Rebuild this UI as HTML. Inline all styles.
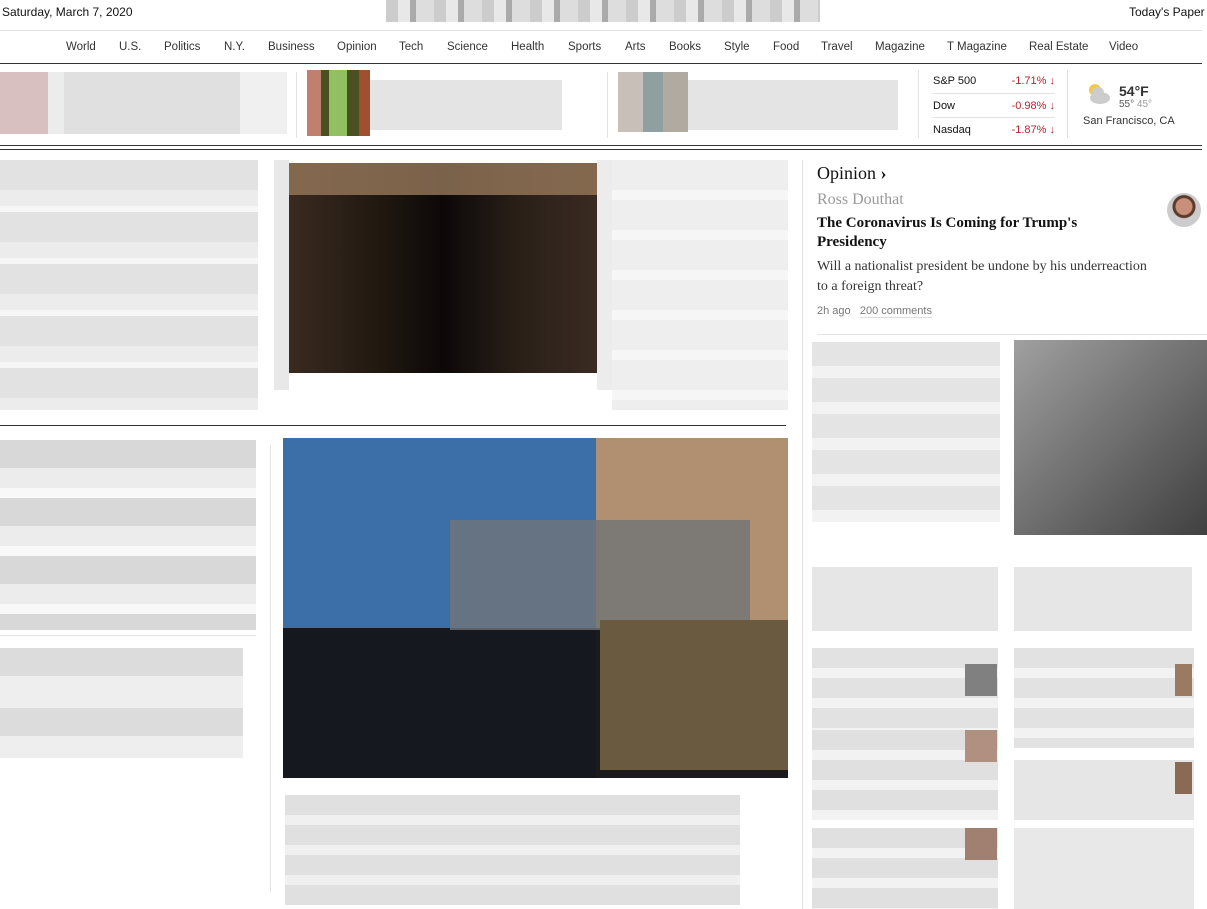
<!DOCTYPE html>
<html><head><meta charset="utf-8"><style>
body{margin:0;width:1207px;height:909px;overflow:hidden;background:#fff;font-family:"Liberation Sans",sans-serif;color:#121212;position:relative}
.a{position:absolute}
.g{position:absolute;background:#e4e4e4}
.nav span{position:absolute;top:41px;font-size:11.5px;color:#333}
.serif{font-family:"Liberation Serif",serif}
</style></head><body>
<div class="a" style="left:2px;top:5px;font-size:12px">Saturday, March 7, 2020</div>
<div class="a" style="left:1129px;top:5px;font-size:12px">Today's Paper</div>
<div class="a" style="left:386px;top:0;width:434px;height:22px;background:repeating-linear-gradient(90deg,#ccc 0 12px,#e8e8e8 12px 24px,#aaa 24px 30px,#ddd 30px 48px)"></div>
<div class="a" style="left:0;top:30px;width:1202px;height:1px;background:#e2e2e2"></div>
<div class="nav">
<span style="left:66px">World</span><span style="left:119px">U.S.</span><span style="left:164px">Politics</span><span style="left:224px">N.Y.</span><span style="left:268px">Business</span><span style="left:337px">Opinion</span><span style="left:399px">Tech</span><span style="left:447px">Science</span><span style="left:511px">Health</span><span style="left:568px">Sports</span><span style="left:625px">Arts</span><span style="left:669px">Books</span><span style="left:724px">Style</span><span style="left:773px">Food</span><span style="left:821px">Travel</span><span style="left:875px">Magazine</span><span style="left:947px">T Magazine</span><span style="left:1029px">Real Estate</span><span style="left:1109px">Video</span>
</div>
<div class="a" style="left:0;top:63px;width:1202px;height:1px;background:#333"></div>
<div class="a" style="left:0;top:72px;width:287px;height:62px;background:linear-gradient(90deg,#d8c0c0 0 48px,#ececec 48px 64px,#e0e0e0 64px 240px,#f0f0f0 240px)"></div>
<div class="a" style="left:296px;top:72px;width:1px;height:66px;background:#e2e2e2"></div>
<div class="a" style="left:307px;top:70px;width:63px;height:66px;background:linear-gradient(90deg,#c08070 0 14px,#4a5020 14px 22px,#90c060 22px 40px,#4a5020 40px 52px,#a05030 52px)"></div>
<div class="g" style="left:370px;top:80px;width:192px;height:50px"></div>
<div class="a" style="left:607px;top:72px;width:1px;height:66px;background:#e2e2e2"></div>
<div class="a" style="left:618px;top:72px;width:70px;height:60px;background:linear-gradient(90deg,#c8c0b8 0 25px,#90a0a0 25px 45px,#b0aaa0 45px)"></div>
<div class="g" style="left:688px;top:80px;width:210px;height:50px"></div>
<div class="a" style="left:918px;top:70px;width:1px;height:68px;background:#e2e2e2"></div>
<div class="a" style="left:933px;top:70px;width:122px;font-size:11px">
<div style="height:23px;line-height:22px;border-bottom:1px solid #e2e2e2">S&amp;P 500<span style="float:right;color:#b3252d">-1.71% ↓</span></div>
<div style="height:23px;line-height:24px;border-bottom:1px solid #e2e2e2">Dow<span style="float:right;color:#b3252d">-0.98% ↓</span></div>
<div style="height:23px;line-height:24px">Nasdaq<span style="float:right;color:#b3252d">-1.87% ↓</span></div></div>
<div class="a" style="left:1067px;top:70px;width:1px;height:68px;background:#e2e2e2"></div>
<div class="a" style="left:1083px;top:82px;width:120px">
<svg class="a" style="left:3px;top:0" width="26" height="24"><circle cx="9" cy="8" r="6" fill="#f2c94c"/><ellipse cx="14" cy="16" rx="10" ry="6" fill="#ccc"/><circle cx="12" cy="11" r="6" fill="#ccc"/></svg>
<div class="a" style="left:36px;top:1px;font-size:14px;font-weight:bold;color:#333">54°F</div>
<div class="a" style="left:36px;top:17px;font-size:10px;color:#555">55° <span style="color:#999">45°</span></div>
<div class="a" style="left:0;top:33px;font-size:11px;color:#333;white-space:nowrap">San Francisco, CA</div></div>
<div class="a" style="left:0;top:145px;width:1202px;height:1px;background:#333"></div>
<div class="a" style="left:0;top:149px;width:1202px;height:1px;background:#333"></div>
<div class="a" style="left:0;top:160px;width:258px;height:250px;background:repeating-linear-gradient(180deg,#e2e2e2 0 30px,#ececec 30px 46px,#f6f6f6 46px 52px)"></div>
<div class="a" style="left:289px;top:163px;width:308px;height:210px;background:linear-gradient(180deg,rgba(150,120,90,.8) 0 32px,transparent 32px),linear-gradient(90deg,#3a2a20,#201810 30%,#0c0808 50%,#2a2018 75%,#3a2a22)"></div>
<div class="a" style="left:274px;top:160px;width:15px;height:230px;background:#e8e8e8"></div>
<div class="a" style="left:597px;top:160px;width:15px;height:230px;background:#ececec"></div>
<div class="a" style="left:612px;top:160px;width:176px;height:250px;background:repeating-linear-gradient(180deg,#eeeeee 0 30px,#f6f6f6 30px 40px)"></div>
<div class="a" style="left:0;top:425px;width:786px;height:1px;background:#333"></div>
<div class="a" style="left:0;top:440px;width:256px;height:190px;background:repeating-linear-gradient(180deg,#d8d8d8 0 28px,#ececec 28px 48px,#f8f8f8 48px 58px)"></div>
<div class="a" style="left:0;top:635px;width:256px;height:1px;background:#e2e2e2"></div>
<div class="a" style="left:0;top:648px;width:243px;height:110px;background:repeating-linear-gradient(180deg,#dcdcdc 0 28px,#eeeeee 28px 60px)"></div>
<div class="a" style="left:270px;top:445px;width:1px;height:447px;background:#e2e2e2"></div>
<div class="a" style="left:283px;top:438px;width:505px;height:340px;background:linear-gradient(180deg,transparent 0 190px,rgba(20,20,25,.95) 190px),linear-gradient(90deg,#3c6ea8 0 62%,#b09070 62%)"></div>
<div class="a" style="left:450px;top:520px;width:300px;height:110px;background:#707478;opacity:.8"></div>
<div class="a" style="left:600px;top:620px;width:188px;height:150px;background:#6a5a40"></div>
<div class="a" style="left:285px;top:795px;width:455px;height:110px;background:repeating-linear-gradient(180deg,#e0e0e0 0 20px,#f0f0f0 20px 30px)"></div>
<div class="a" style="left:802px;top:160px;width:1px;height:749px;background:#e2e2e2"></div>
<div class="a serif" style="left:817px;top:163px;font-size:18px">Opinion <b>›</b></div>
<div class="a serif" style="left:817px;top:191px;font-size:16px;color:#999">Ross Douthat</div>
<div class="a" style="left:1167px;top:193px;width:34px;height:34px;border-radius:50%;background:radial-gradient(circle at 50% 40%,#c8907a 0 8px,#5a3a2a 9px 11px,#ccc 12px)"></div>
<div class="a serif" style="left:817px;top:214px;width:300px;font-size:15px;font-weight:bold;line-height:19px">The Coronavirus Is Coming for Trump's Presidency</div>
<div class="a serif" style="left:817px;top:257px;width:340px;font-size:14px;line-height:20px;color:#363636">Will a nationalist president be undone by his underreaction to a foreign threat?</div>
<div class="a" style="left:817px;top:305px;font-size:11px;color:#777">2h ago &nbsp; <span style="border-bottom:1px solid #ddd">200 comments</span></div>
<div class="a" style="left:817px;top:334px;width:390px;height:1px;background:#e2e2e2"></div>
<div class="a" style="left:812px;top:342px;width:188px;height:180px;background:repeating-linear-gradient(180deg,#e4e4e4 0 24px,#f2f2f2 24px 36px)"></div>
<div class="a" style="left:1014px;top:340px;width:193px;height:195px;background:linear-gradient(135deg,#a0a0a0,#707070 50%,#404040)"></div>
<div class="a" style="left:812px;top:567px;width:186px;height:64px;background:#e6e6e6"></div>
<div class="a" style="left:1014px;top:567px;width:178px;height:64px;background:#e6e6e6"></div>
<div class="a" style="left:812px;top:648px;width:186px;height:100px;background:repeating-linear-gradient(180deg,#e2e2e2 0 20px,#f2f2f2 20px 30px)"></div>
<div class="a" style="left:965px;top:664px;width:32px;height:32px;background:#808080"></div>
<div class="a" style="left:1014px;top:648px;width:180px;height:100px;background:repeating-linear-gradient(180deg,#e2e2e2 0 20px,#f2f2f2 20px 30px)"></div>
<div class="a" style="left:1175px;top:664px;width:17px;height:32px;background:#9a7a60"></div>
<div class="a" style="left:812px;top:730px;width:186px;height:90px;background:repeating-linear-gradient(180deg,#e0e0e0 0 20px,#f2f2f2 20px 30px)"></div>
<div class="a" style="left:965px;top:730px;width:32px;height:32px;background:#b09080"></div>
<div class="a" style="left:1014px;top:760px;width:180px;height:60px;background:#e6e6e6"></div>
<div class="a" style="left:1175px;top:762px;width:17px;height:32px;background:#8a6a55"></div>
<div class="a" style="left:812px;top:828px;width:186px;height:81px;background:repeating-linear-gradient(180deg,#e0e0e0 0 20px,#f2f2f2 20px 30px)"></div>
<div class="a" style="left:965px;top:828px;width:32px;height:32px;background:#a08070"></div>
<div class="a" style="left:1014px;top:828px;width:180px;height:81px;background:#e8e8e8"></div>
</body></html>
